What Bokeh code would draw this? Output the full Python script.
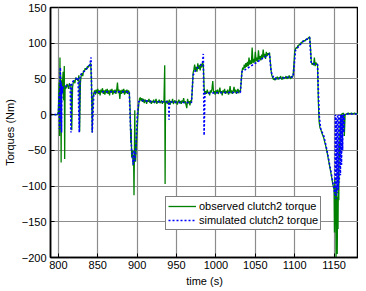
from bokeh.plotting import figure
from bokeh.models import FixedTicker, Legend, LegendItem
from bokeh.embed import file_html
from bokeh.resources import INLINE

# (time s, torque Nm)
observed_torque = [
    (790, 0), (799, 0), (800, 5), (800.5, 25), (801, 45), (801.5, -30), (802, 80), (802.5, 10),
    (803, 55), (803.5, -67), (804, 35), (804.5, 48), (805, 40), (806, 60), (806.5, 20), (807, 38),
    (807.5, 68), (808, -62), (808.5, 40), (809, 36), (810, 38), (811, 43), (812, 40), (813, 36),
    (814, 44), (815, 40), (816, 42), (816.5, 10), (817, -22), (818, 38), (819, 46), (820, 48),
    (821, 44), (822, 52), (823, 49), (824, 50), (825, 47), (826, 55), (826.5, 30), (827, -24),
    (828, 45), (829, 55), (830, 58), (831, 54), (832, 62), (833, 60), (834, 65), (835, 63),
    (836, 64), (837, 68), (838, 66), (839, 69), (840, 70), (841, 72), (842, 48), (842.5, 10),
    (843, -25), (843.5, 5), (844, 25), (845, 30),
    (846, 34), (847, 28), (848, 35), (849, 30), (850, 36), (851, 29), (852, 34), (853, 27),
    (854, 35), (855, 31), (856, 37), (857, 29), (858, 34), (859, 28), (860, 35), (861, 30),
    (862, 36), (863, 29), (864, 34), (865, 27), (866, 35), (867, 31), (868, 36), (869, 28),
    (870, 34), (871, 30), (872, 35), (873, 29), (874, 34), (875, 45), (876, 30), (877, 35),
    (878, 22), (879, 34), (880, 29), (881, 35), (882, 30), (883, 36), (884, 28), (885, 34),
    (886, 30), (887, 35), (888, 29), (889, 34), (890, 31),
    (891, 10), (892, -40), (892.5, -20), (893, -60), (894, -50), (895, -72), (895.5, -60),
    (896, -113), (896.5, -55), (897, 6), (897.5, -50), (898, -66), (899, -45), (900, -22),
    (901, 0), (902, 14), (903, 22),
    (904, 24), (905, 19), (906, 23), (907, 18), (908, 22), (909, 16), (910, 21), (911, 19),
    (912, 15), (913, 20), (914, 18), (915, 22), (916, 17), (917, 20), (918, 15), (919, 19),
    (920, 17), (921, 21), (922, 16), (923, 18), (924, 22), (925, 15), (926, 19), (927, 17),
    (928, 21), (929, 16), (930, 18), (931, 20), (932, 15), (933, 19), (934, 17), (935, 69),
    (935.5, -97), (936, 18), (937, 16), (938, 20), (939, 15), (940, 18), (941, 21), (942, 14),
    (943, 19), (944, 17), (945, 22), (946, 15), (947, 18), (948, 20), (949, 16), (950, 19),
    (951, 14), (952, 18), (953, 21), (954, 16), (955, 19), (956, 15), (957, 20), (958, 17),
    (959, 23), (960, 16), (961, 19), (962, 14), (963, 9), (964, 22), (965, 16), (966, 19),
    (967, 13), (968, 20), (969, 18),
    (970, 35), (971, 58), (972, 63), (973, 70), (974, 61), (975, 67), (976, 60), (977, 72),
    (978, 64), (979, 69), (980, 62), (981, 71), (982, 66), (983, 73), (984, 70), (985, 38),
    (986, 28),
    (987, 33), (988, 29), (989, 35), (990, 30), (991, 32), (992, 27), (993, 34), (994, 31),
    (995, 36), (996, 47), (997, 30), (998, 33), (999, 28), (1000, 34), (1001, 30), (1002, 35),
    (1003, 29), (1004, 32), (1005, 38), (1006, 30), (1007, 33), (1008, 27), (1009, 34),
    (1010, 31), (1011, 36), (1012, 29), (1013, 33), (1014, 30), (1015, 35), (1016, 28),
    (1017, 32), (1018, 40), (1019, 30), (1020, 34), (1021, 29), (1022, 33), (1023, 39),
    (1024, 31), (1025, 35), (1026, 29), (1027, 33), (1028, 36), (1029, 30), (1030, 34),
    (1031, 32),
    (1032, 45), (1033, 60), (1034, 66), (1035, 63), (1036, 70), (1037, 65), (1038, 72),
    (1039, 67), (1040, 74), (1041, 68), (1042, 80), (1043, 70), (1044, 76), (1045, 71),
    (1046, 94), (1047, 72), (1048, 78), (1049, 73), (1050, 88), (1051, 75), (1052, 80),
    (1053, 74), (1054, 90), (1055, 77), (1056, 82), (1057, 76), (1058, 84), (1059, 79),
    (1060, 91), (1061, 80), (1062, 85), (1063, 78), (1064, 88), (1065, 82), (1066, 86),
    (1067, 84), (1068, 87),
    (1069, 75), (1070, 62), (1071, 55), (1072, 52), (1073, 49), (1074, 51), (1075, 48),
    (1076, 52), (1077, 50), (1078, 53), (1079, 49), (1080, 52), (1081, 50), (1082, 54),
    (1083, 51), (1084, 49), (1085, 53), (1086, 50), (1087, 52), (1088, 51), (1089, 54),
    (1090, 50), (1091, 53), (1092, 51), (1093, 55), (1094, 52), (1095, 50), (1096, 54),
    (1097, 52), (1098, 55),
    (1099, 70), (1100, 88), (1101, 92), (1102, 94), (1103, 93), (1104, 97), (1105, 96),
    (1106, 99), (1107, 98), (1108, 101), (1109, 100), (1110, 103), (1111, 102), (1112, 104),
    (1113, 103), (1114, 105), (1115, 106), (1116, 105), (1117, 107), (1118, 108), (1119, 109),
    (1120, 95), (1121, 75), (1122, 70), (1123, 72), (1124, 69), (1125, 80), (1126, 68),
    (1127, 73), (1128, 70), (1129, 71),
    (1130, 20), (1131, -10), (1132, -18), (1133, -20), (1134, -24), (1135, -27), (1136, -30),
    (1137, -33), (1138, -38), (1139, -42), (1140, -47), (1141, -52), (1142, -58), (1143, -64),
    (1144, -70), (1145, -76), (1146, -82), (1147, -88), (1148, -95), (1149, -100), (1150, -105),
    (1150.5, -165), (1151, -90), (1151.5, -120), (1152, -110), (1152.5, -200), (1153, -100),
    (1153.5, -140), (1154, -195), (1154.5, -115), (1155, -160), (1155.5, -80), (1156, -120),
    (1156.5, -40), (1157, -60), (1157.5, -20), (1158, -5), (1158.5, -35), (1159, 0), (1160, 1),
    (1162, 2), (1163, -30), (1164, 0), (1166, 1), (1168, 2), (1170, 1), (1172, 2), (1174, 1),
    (1176, 2), (1178, 1), (1181, 2),
]

simulated_torque = [
    (790, 0), (800, 0), (801, 30), (801.5, -20), (802, 40), (802.5, 66), (803, -10),
    (803.5, 45), (804, -25), (804.5, 40), (805, 30), (806, 38), (808, 40), (810, 40),
    (815, 42), (816, -25), (817, 45), (820, 48), (825, 52), (826.5, -25), (827.5, 55),
    (830, 58), (835, 63), (840, 70), (841.5, 80), (843, -25), (845, 30), (850, 32),
    (870, 32), (890, 32), (891, 0), (892, -30), (893, -50), (894, -60), (895, -70),
    (896, -50), (897, -65), (898, -55), (899, -30), (900, -5), (902, 18), (905, 20),
    (920, 18), (940, 18), (940.5, -7), (941, 18), (955, 17), (969, 17), (971, 55),
    (975, 64), (983, 72), (984, 85), (985, -29), (986, 30), (1010, 31), (1031, 31),
    (1033, 60), (1050, 72), (1068, 85), (1070, 60), (1074, 50), (1098, 53), (1101, 90),
    (1110, 102), (1119, 108), (1121, 72), (1129, 70), (1131, 0), (1133, -20), (1137, -30),
    (1141, -50), (1146, -80), (1150, -105), (1151, -112), (1151.7, 0), (1152.4, -118),
    (1153.1, -5), (1153.8, -110), (1154.5, 0), (1155.2, -105), (1155.9, 0), (1156.6, -95),
    (1157.3, 0), (1158, -85), (1158.7, 0), (1159.4, -70), (1160.1, 0), (1160.8, -50),
    (1161.5, 0), (1162.2, -25), (1163, 0), (1165, 1), (1181, 1),
]

x_ticks = [800, 850, 900, 950, 1000, 1050, 1100, 1150]
y_ticks = [-200, -150, -100, -50, 0, 50, 100, 150]

obs_t = [p[0] for p in observed_torque]
obs_v = [p[1] for p in observed_torque]
sim_t = [p[0] for p in simulated_torque]
sim_v = [p[1] for p in simulated_torque]

FONT = "Liberation Sans"

p = figure(width=358, height=291, x_range=(790, 1181), y_range=(-200, 150),
           output_backend="svg", toolbar_location=None,
           min_border_left=44, min_border_right=0, min_border_top=7, min_border_bottom=34)

p.outline_line_color = "black"
p.outline_line_width = 1.5
p.background_fill_color = "white"
p.border_fill_color = "white"

for ax in (p.xaxis[0], p.yaxis[0]):
    ax.axis_line_color = "black"
    ax.axis_line_width = 1.5
    ax.major_tick_in = 4
    ax.major_tick_out = 0
    ax.minor_tick_line_color = None
    ax.major_label_text_font = FONT
    ax.major_label_text_font_size = "11px"
    ax.major_label_text_color = "black"
    ax.axis_label_text_font = FONT
    ax.axis_label_text_font_size = "11px"
    ax.axis_label_text_font_style = "normal"
    ax.axis_label_text_color = "black"

p.xaxis.ticker = FixedTicker(ticks=x_ticks)
p.yaxis.ticker = FixedTicker(ticks=y_ticks)
p.xaxis.axis_label = "time (s)"
p.yaxis.axis_label = "Torques (Nm)"
p.xaxis.major_label_standoff = 3
p.yaxis.major_label_standoff = 4
p.xaxis.axis_label_standoff = 3
p.yaxis.axis_label_standoff = 3

p.xgrid.ticker = FixedTicker(ticks=x_ticks)
p.ygrid.ticker = FixedTicker(ticks=y_ticks)
for g in (p.xgrid[0], p.ygrid[0]):
    g.grid_line_color = "#8c8c8c"
    g.grid_line_width = 1.2

r_obs = p.line(obs_t, obs_v, line_color="#008000", line_width=1.3)
r_sim = p.line(sim_t, sim_v, line_color="#0000ff", line_width=1.6, line_dash="2 2")

legend = Legend(items=[
    LegendItem(label="observed clutch2 torque", renderers=[r_obs]),
    LegendItem(label="simulated clutch2 torque", renderers=[r_sim]),
], location=(115, 27))
legend.border_line_color = "black"
legend.border_line_width = 1.5
legend.background_fill_color = "white"
legend.background_fill_alpha = 1
legend.label_text_font = FONT
legend.label_text_font_size = "11px"
legend.label_text_color = "black"
legend.padding = 2
legend.spacing = 0
legend.margin = 0
legend.glyph_width = 28
legend.glyph_height = 14
legend.label_height = 14
legend.label_standoff = 3
p.add_layout(legend, "center")

open("out.html", "w").write(file_html(p, INLINE))
